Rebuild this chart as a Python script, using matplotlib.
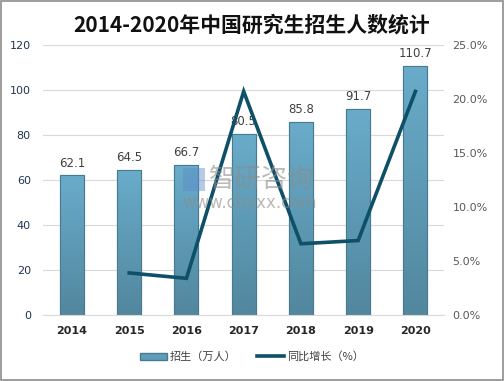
import matplotlib
matplotlib.use("Agg")
import matplotlib.pyplot as plt
import numpy as np
from matplotlib.ticker import FuncFormatter, MultipleLocator
from matplotlib.patches import Rectangle, Patch
from matplotlib.lines import Line2D
from matplotlib.colors import LinearSegmentedColormap

plt.rcParams['font.family'] = ['Noto Sans CJK SC', 'DejaVu Sans']

years = ['2014', '2015', '2016', '2017', '2018', '2019', '2020']
enroll = [62.1, 64.5, 66.7, 80.5, 85.8, 91.7, 110.7]
growth_years = ['2015', '2016', '2017', '2018', '2019', '2020']
growth = [3.9, 3.4, 20.7, 6.6, 6.9, 20.7]

fig = plt.figure(figsize=(5.04, 3.81), dpi=100)
ax = fig.add_axes([0.086, 0.173, 0.795, 0.709])
ax2 = ax.twinx()

x = np.arange(len(years))
bars = ax.bar(x, enroll, width=0.42, color='#5E9DBA', edgecolor='#4A7A90', linewidth=0.8, zorder=2)

grad = np.linspace(0, 1, 256).reshape(-1, 1)
cmap = LinearSegmentedColormap.from_list('g', ['#52879E', '#69ACCA'])
for b in bars:
    x0, y0 = b.get_x(), b.get_y()
    w, h = b.get_width(), b.get_height()
    im = ax.imshow(grad, extent=[x0, x0 + w, y0, y0 + h], origin='lower',
                   cmap=cmap, aspect='auto', zorder=2.5)
    im.set_clip_path(b)
    ax.add_patch(Rectangle((x0, y0), w, h, facecolor='none', edgecolor='#4A7A90', linewidth=0.8, zorder=2.6))

for xi, v in zip(x, enroll):
    ax.text(xi, v + 2.5, f'{v:.1f}', ha='center', va='bottom', fontsize=8.5, color='#404040',
            family=['DejaVu Sans'], zorder=5)

ax.set_xlim(-0.5, len(years) - 0.5)
ax.set_ylim(0, 120)
ax.yaxis.set_major_locator(MultipleLocator(20))
ax.grid(axis='y', color='#D9D9D9', linewidth=0.8, zorder=0)
ax.set_axisbelow(True)
ax.set_xticks(x)
ax.set_xticklabels(years, fontsize=8, fontweight='bold', color='#262626', family=['DejaVu Sans'])
ax.tick_params(axis='y', labelsize=8, labelcolor='#1F3552', length=0, pad=9)
ax.tick_params(axis='x', length=0, pad=8)
for s in ['top', 'right', 'left']:
    ax.spines[s].set_visible(False)
ax.spines['bottom'].set_color('#D9D9D9')

gx = [years.index(y) for y in growth_years]
ax2.plot(gx, growth, color='#0E5068', linewidth=2.6, zorder=4, solid_joinstyle='miter')
ax2.set_ylim(0, 25)
ax2.yaxis.set_major_locator(MultipleLocator(5))
ax2.yaxis.set_major_formatter(FuncFormatter(lambda v, p: f'{v:.1f}%'))
ax2.tick_params(axis='y', labelsize=8, labelcolor='#595959', length=0, pad=6)
for s in ['top', 'right', 'left', 'bottom']:
    ax2.spines[s].set_visible(False)

for lab in ax.get_yticklabels() + ax2.get_yticklabels():
    lab.set_family(['DejaVu Sans'])

fig.text(0.5, 0.935, '2014-2020年中国研究生招生人数统计', ha='center', va='center',
         fontsize=15, fontweight='bold', color='#111111')

# watermark
fig.text(0.415, 0.528, '智研咨询', ha='left', va='center', fontsize=19, color='#8C8C8C', alpha=0.6, zorder=10)
fig.text(0.362, 0.467, 'www.chyxx.com', ha='left', va='center', fontsize=12, color='#8C8C8C', alpha=0.6, zorder=10,
         family=['DejaVu Sans'])
fig.patches.append(Rectangle((0.363, 0.50), 0.044, 0.058, transform=fig.transFigure,
                             facecolor='#5B8BC9', alpha=0.45, edgecolor='none', zorder=10))

handles = [Patch(facecolor='#5E9DBA', edgecolor='#4A7A90'),
           Line2D([0], [0], color='#0E5068', linewidth=2.6)]
fig.legend(handles, ['招生（万人）', '同比增长（%）'], loc='center', bbox_to_anchor=(0.5, 0.064),
           ncol=2, frameon=False, fontsize=8, handlelength=2.4, handleheight=0.6, handletextpad=0.3,
           columnspacing=1.8, labelcolor='#404040')

fig.patches.append(Rectangle((0.002, 0.003), 0.996, 0.994, transform=fig.transFigure,
                             facecolor='none', edgecolor='#8C8C8C', linewidth=1.2))

fig.savefig('out.png', dpi=100)
